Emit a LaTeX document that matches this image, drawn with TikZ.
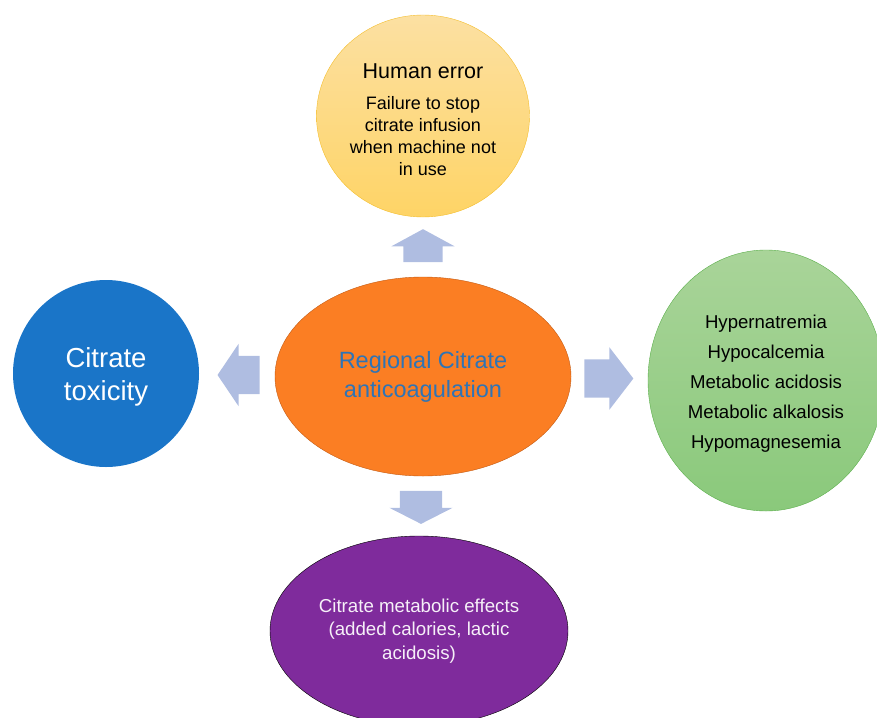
\documentclass[tikz,border=0pt]{standalone}
\usepackage{fontspec}
\setmainfont{Liberation Sans}
\usetikzlibrary{shapes.geometric}
\usetikzlibrary{shapes.arrows}
\usetikzlibrary{calc}
\definecolor{errtop}{HTML}{FCE0A2}
\definecolor{errbot}{HTML}{FED466}
\definecolor{errline}{HTML}{F4BE2E}
\definecolor{rcafill}{HTML}{FB7E23}
\definecolor{rcaline}{HTML}{C35A12}
\definecolor{rcatext}{HTML}{2E74B6}
\definecolor{labtop}{HTML}{A9D499}
\definecolor{labbot}{HTML}{8AC97B}
\definecolor{labline}{HTML}{5CAF4C}
\definecolor{toxfill}{HTML}{1A75C8}
\definecolor{metafill}{HTML}{7F2B9C}
\definecolor{arrfill}{HTML}{AFBDE1}

\tikzset{
bubble/.style={ellipse,inner sep=0pt,align=center},
blockarrow/.style={single arrow,fill=arrfill,inner xsep=0pt,single arrow head extend=12pt}
}

\begin{document}
\begin{tikzpicture}[x=1pt,y=-1pt]
\useasboundingbox (0,0) rectangle (877,717);
%% the five bubbles
\path (423,376.5) node(rca) [bubble,fill=rcafill,draw=rcaline,minimum width=296pt,minimum height=199pt,text=rcatext,font=\fontsize{23.5}{29}\selectfont]{Regional Citrate\\anticoagulation};
\path (423,116) node(err) [bubble,draw=errline,top color=errtop,bottom color=errbot,minimum width=213pt,minimum height=202pt,font=\fontsize{18}{22}\selectfont]{{\fontsize{21.5}{25}\selectfont\rule{0pt}{22pt}Human error}\\[9pt]
Failure to stop\\
citrate infusion\\
when machine not\\
in use};
\path (106,373.5) node(tox) [bubble,fill=toxfill,minimum width=186pt,minimum height=187pt,text=white,font=\fontsize{27.5}{33}\selectfont]{\rule{0pt}{26pt}Citrate\\toxicity};
\path (766,380.5) node(lab) [bubble,draw=labline,top color=labtop,bottom color=labbot,minimum width=236pt,minimum height=261pt,font=\fontsize{18.6}{30}\selectfont]{\rule{0pt}{19.5pt}Hypernatremia\\
Hypocalcemia\\
Metabolic acidosis\\
Metabolic alkalosis\\
Hypomagnesemia};
\path (419,631) node(meta) [bubble,fill=metafill,draw=black,minimum width=298pt,minimum height=190pt,text=white!93!metafill,font=\fontsize{18.7}{23.5}\selectfont]{Citrate metabolic effects\\
(added calories, lactic\\
acidosis)};
%% block arrows in the gaps
\path ($(rca.north)!0.5!(err.south)+(0,4)$) node(up) [blockarrow,rotate=90,minimum height=33pt,inner ysep=19.5pt,single arrow tip angle=123]{};
\path ($(rca.west)!0.5!(tox.east)+(8,0)$) node(left) [blockarrow,rotate=180,minimum height=42pt,inner ysep=19pt,single arrow tip angle=112]{};
\path ($(rca.east)!0.5!(lab.west)+(-8,0)$) node(right) [blockarrow,minimum height=49pt,inner ysep=19pt,single arrow tip angle=105]{};
\path ($(rca.south)!0.5!(meta.north)+(0,-4)$) node(down) [blockarrow,rotate=-90,minimum height=33pt,inner ysep=21pt,single arrow head extend=10.5pt,single arrow tip angle=126]{};
\end{tikzpicture}
\end{document}
